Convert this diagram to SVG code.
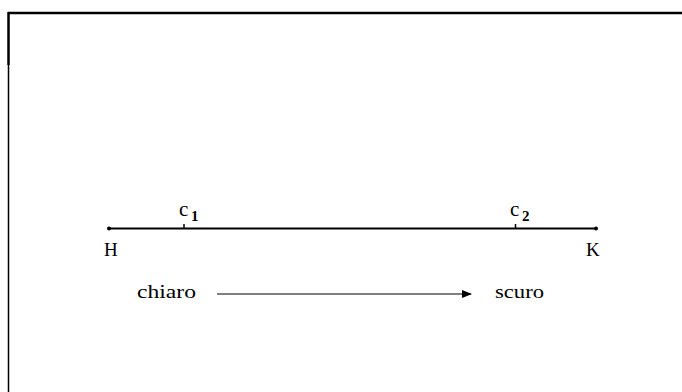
<svg xmlns="http://www.w3.org/2000/svg" width="682" height="392" viewBox="0 0 682 392">
<style>
text{font-family:"Liberation Serif","Times New Roman",serif;fill:#000}
.lbl{font-size:19px}
.c{font-size:21px}
.sub{font-size:15px;font-weight:bold}
</style>
<defs>
<marker id="ah" markerWidth="10" markerHeight="8" refX="9" refY="4" orient="auto" markerUnits="userSpaceOnUse">
<path d="M0,0 L10,4 L0,8 Z" fill="#000"/>
</marker>
</defs>
<rect width="682" height="392" fill="#fff"/>
<g id="frame">
<line x1="8" y1="13" x2="682" y2="13" stroke="#000" stroke-width="2.5"/>
<line x1="8.5" y1="12" x2="8.5" y2="65" stroke="#000" stroke-width="2.5"/>
<line x1="8.5" y1="65" x2="8.5" y2="392" stroke="#000" stroke-width="1.5"/>
</g>
<g id="segment">
<line x1="109" y1="228.5" x2="596" y2="228.5" stroke="#000" stroke-width="2"/>
<circle cx="109" cy="228.5" r="2" fill="#000"/>
<circle cx="596" cy="228.5" r="2" fill="#000"/>
</g>
<g id="H"><text class="lbl" x="104" y="256">H</text></g>
<g id="K"><text class="lbl" x="586" y="256">K</text></g>
<g id="c1">
<line x1="184" y1="224" x2="184" y2="229" stroke="#000" stroke-width="1.5"/>
<text class="c" x="179" y="216">c</text><text class="sub" x="191" y="221">1</text>
</g>
<g id="c2">
<line x1="515.5" y1="224" x2="515.5" y2="229" stroke="#000" stroke-width="1.5"/>
<text class="c" x="510" y="216">c</text><text class="sub" x="522" y="221">2</text>
</g>
<g id="chiaro"><text class="lbl" x="137" y="298" textLength="59" lengthAdjust="spacingAndGlyphs">chiaro</text></g>
<g id="scuro"><text class="lbl" x="495" y="298" textLength="49" lengthAdjust="spacingAndGlyphs">scuro</text></g>
<g id="connectors">
<line x1="217" y1="294" x2="471" y2="294" stroke="#000" stroke-width="1" marker-end="url(#ah)"/>
</g>
</svg>
